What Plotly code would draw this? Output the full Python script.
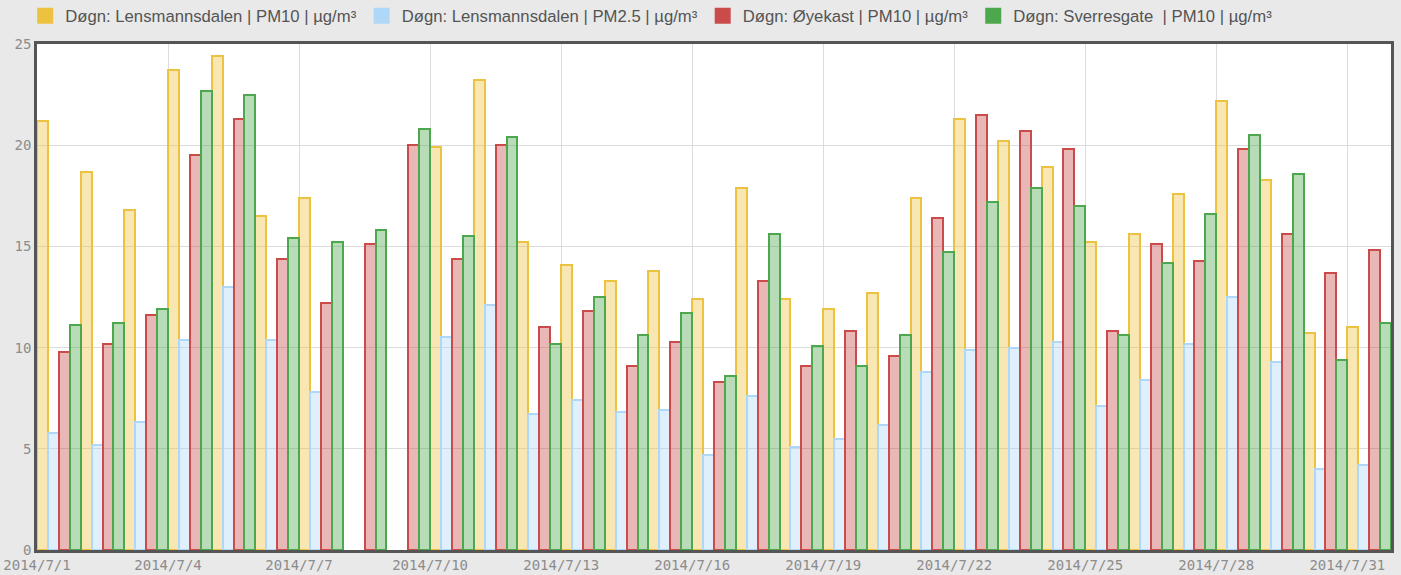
import pandas as pd
import plotly.graph_objects as go

# ---- data ----
days = pd.date_range("2014-07-01", "2014-07-31", freq="D")

pm10_lensmannsdalen = [21.2, 18.7, 16.8, 23.7, 24.4, 16.5, 17.4, None, None, 19.9,
                       23.2, 15.2, 14.1, 13.3, 13.8, 12.4, 17.9, 12.4, 11.9, 12.7,
                       17.4, 21.3, 20.2, 18.9, 15.2, 15.6, 17.6, 22.2, 18.3, 10.7, 11.0]
pm25_lensmannsdalen = [5.8, 5.2, 6.3, 10.4, 13.0, 10.4, 7.8, None, None, 10.5,
                       12.1, 6.7, 7.4, 6.8, 6.9, 4.7, 7.6, 5.1, 5.5, 6.2,
                       8.8, 9.9, 10.0, 10.3, 7.1, 8.4, 10.2, 12.5, 9.3, 4.0, 4.2]
pm10_oyekast = [9.8, 10.2, 11.6, 19.5, 21.3, 14.4, 12.2, 15.1, 20.0, 14.4,
                20.0, 11.0, 11.8, 9.1, 10.3, 8.3, 13.3, 9.1, 10.8, 9.6,
                16.4, 21.5, 20.7, 19.8, 10.8, 15.1, 14.3, 19.8, 15.6, 13.7, 14.8]
pm10_sverresgate = [11.1, 11.2, 11.9, 22.7, 22.5, 15.4, 15.2, 15.8, 20.8, 15.5,
                    20.4, 10.2, 12.5, 10.6, 11.7, 8.6, 15.6, 10.1, 9.1, 10.6,
                    14.7, 17.2, 17.9, 17.0, 10.6, 14.2, 16.6, 20.5, 18.6, 9.4, 11.2]

series_names = [
    "Døgn: Lensmannsdalen | PM10 | µg/m³",
    "Døgn: Lensmannsdalen | PM2.5 | µg/m³",
    "Døgn: Øyekast | PM10 | µg/m³",
    "Døgn: Sverresgate  | PM10 | µg/m³",
]
series_values = [pm10_lensmannsdalen, pm25_lensmannsdalen, pm10_oyekast, pm10_sverresgate]
series_colors = ["#edc240", "#afd8f8", "#cb4b4b", "#4da74d"]
series_fills = ["rgba(237,194,64,0.4)", "rgba(175,216,248,0.4)",
                "rgba(203,75,75,0.4)", "rgba(77,167,77,0.4)"]

tick_dates = ["2014-07-01", "2014-07-04", "2014-07-07", "2014-07-10", "2014-07-13", "2014-07-16",
              "2014-07-19", "2014-07-22", "2014-07-25", "2014-07-28", "2014-07-31"]
tick_labels = ["2014/7/1", "2014/7/4", "2014/7/7", "2014/7/10", "2014/7/13", "2014/7/16",
               "2014/7/19", "2014/7/22", "2014/7/25", "2014/7/28", "2014/7/31"]

# bars of each day occupy the whole day slot (group centred at midday)
x_centers = days + pd.Timedelta(hours=12)

fig = go.Figure()
for name, vals, col, fill in zip(series_names, series_values, series_colors, series_fills):
    fig.add_trace(go.Bar(
        x=x_centers, y=vals, name=name, showlegend=False,
        marker=dict(color=fill, line=dict(color=col, width=2)),
    ))
for name, col in zip(series_names, series_colors):
    fig.add_trace(go.Scatter(
        x=[None], y=[None], mode="markers", name=name,
        marker=dict(symbol="square", size=16, color=col),
    ))

tick_font = dict(family="DejaVu Sans Mono", size=14, color="#8c8c8c")

fig.update_layout(
    width=1401, height=575,
    paper_bgcolor="#e9e9e9", plot_bgcolor="#ffffff",
    margin=dict(l=37, r=10, t=44, b=25, autoexpand=False),
    barmode="group", bargap=0, bargroupgap=0,
    legend=dict(
        orientation="h", xref="container", yref="container",
        x=0.018, xanchor="left", y=1 - 16 / 575, yanchor="middle",
        font=dict(family="Liberation Sans, Arial", size=16.7, color="#545454"),
        bgcolor="rgba(0,0,0,0)", itemclick=False,
    ),
    xaxis=dict(
        type="date", range=["2014-07-01", "2014-08-01"],
        tickmode="array", tickvals=tick_dates, ticktext=tick_labels,
        tickfont=tick_font, ticks="", automargin=False,
        showgrid=True, gridcolor="#dcdcdc", gridwidth=1,
        showline=True, linecolor="#555555", linewidth=2.5, mirror=True,
        zeroline=False,
    ),
    yaxis=dict(
        range=[0, 25], dtick=5, tick0=0,
        tickfont=tick_font, ticks="", automargin=False,
        showgrid=True, gridcolor="#dcdcdc", gridwidth=1,
        showline=True, linecolor="#555555", linewidth=2.5, mirror=True,
        zeroline=False,
    ),
)

fig.write_html(
    "out.html",
    config={"displayModeBar": False},
    post_script="document.body.style.margin='0';document.body.style.background='#e9e9e9';",
)
